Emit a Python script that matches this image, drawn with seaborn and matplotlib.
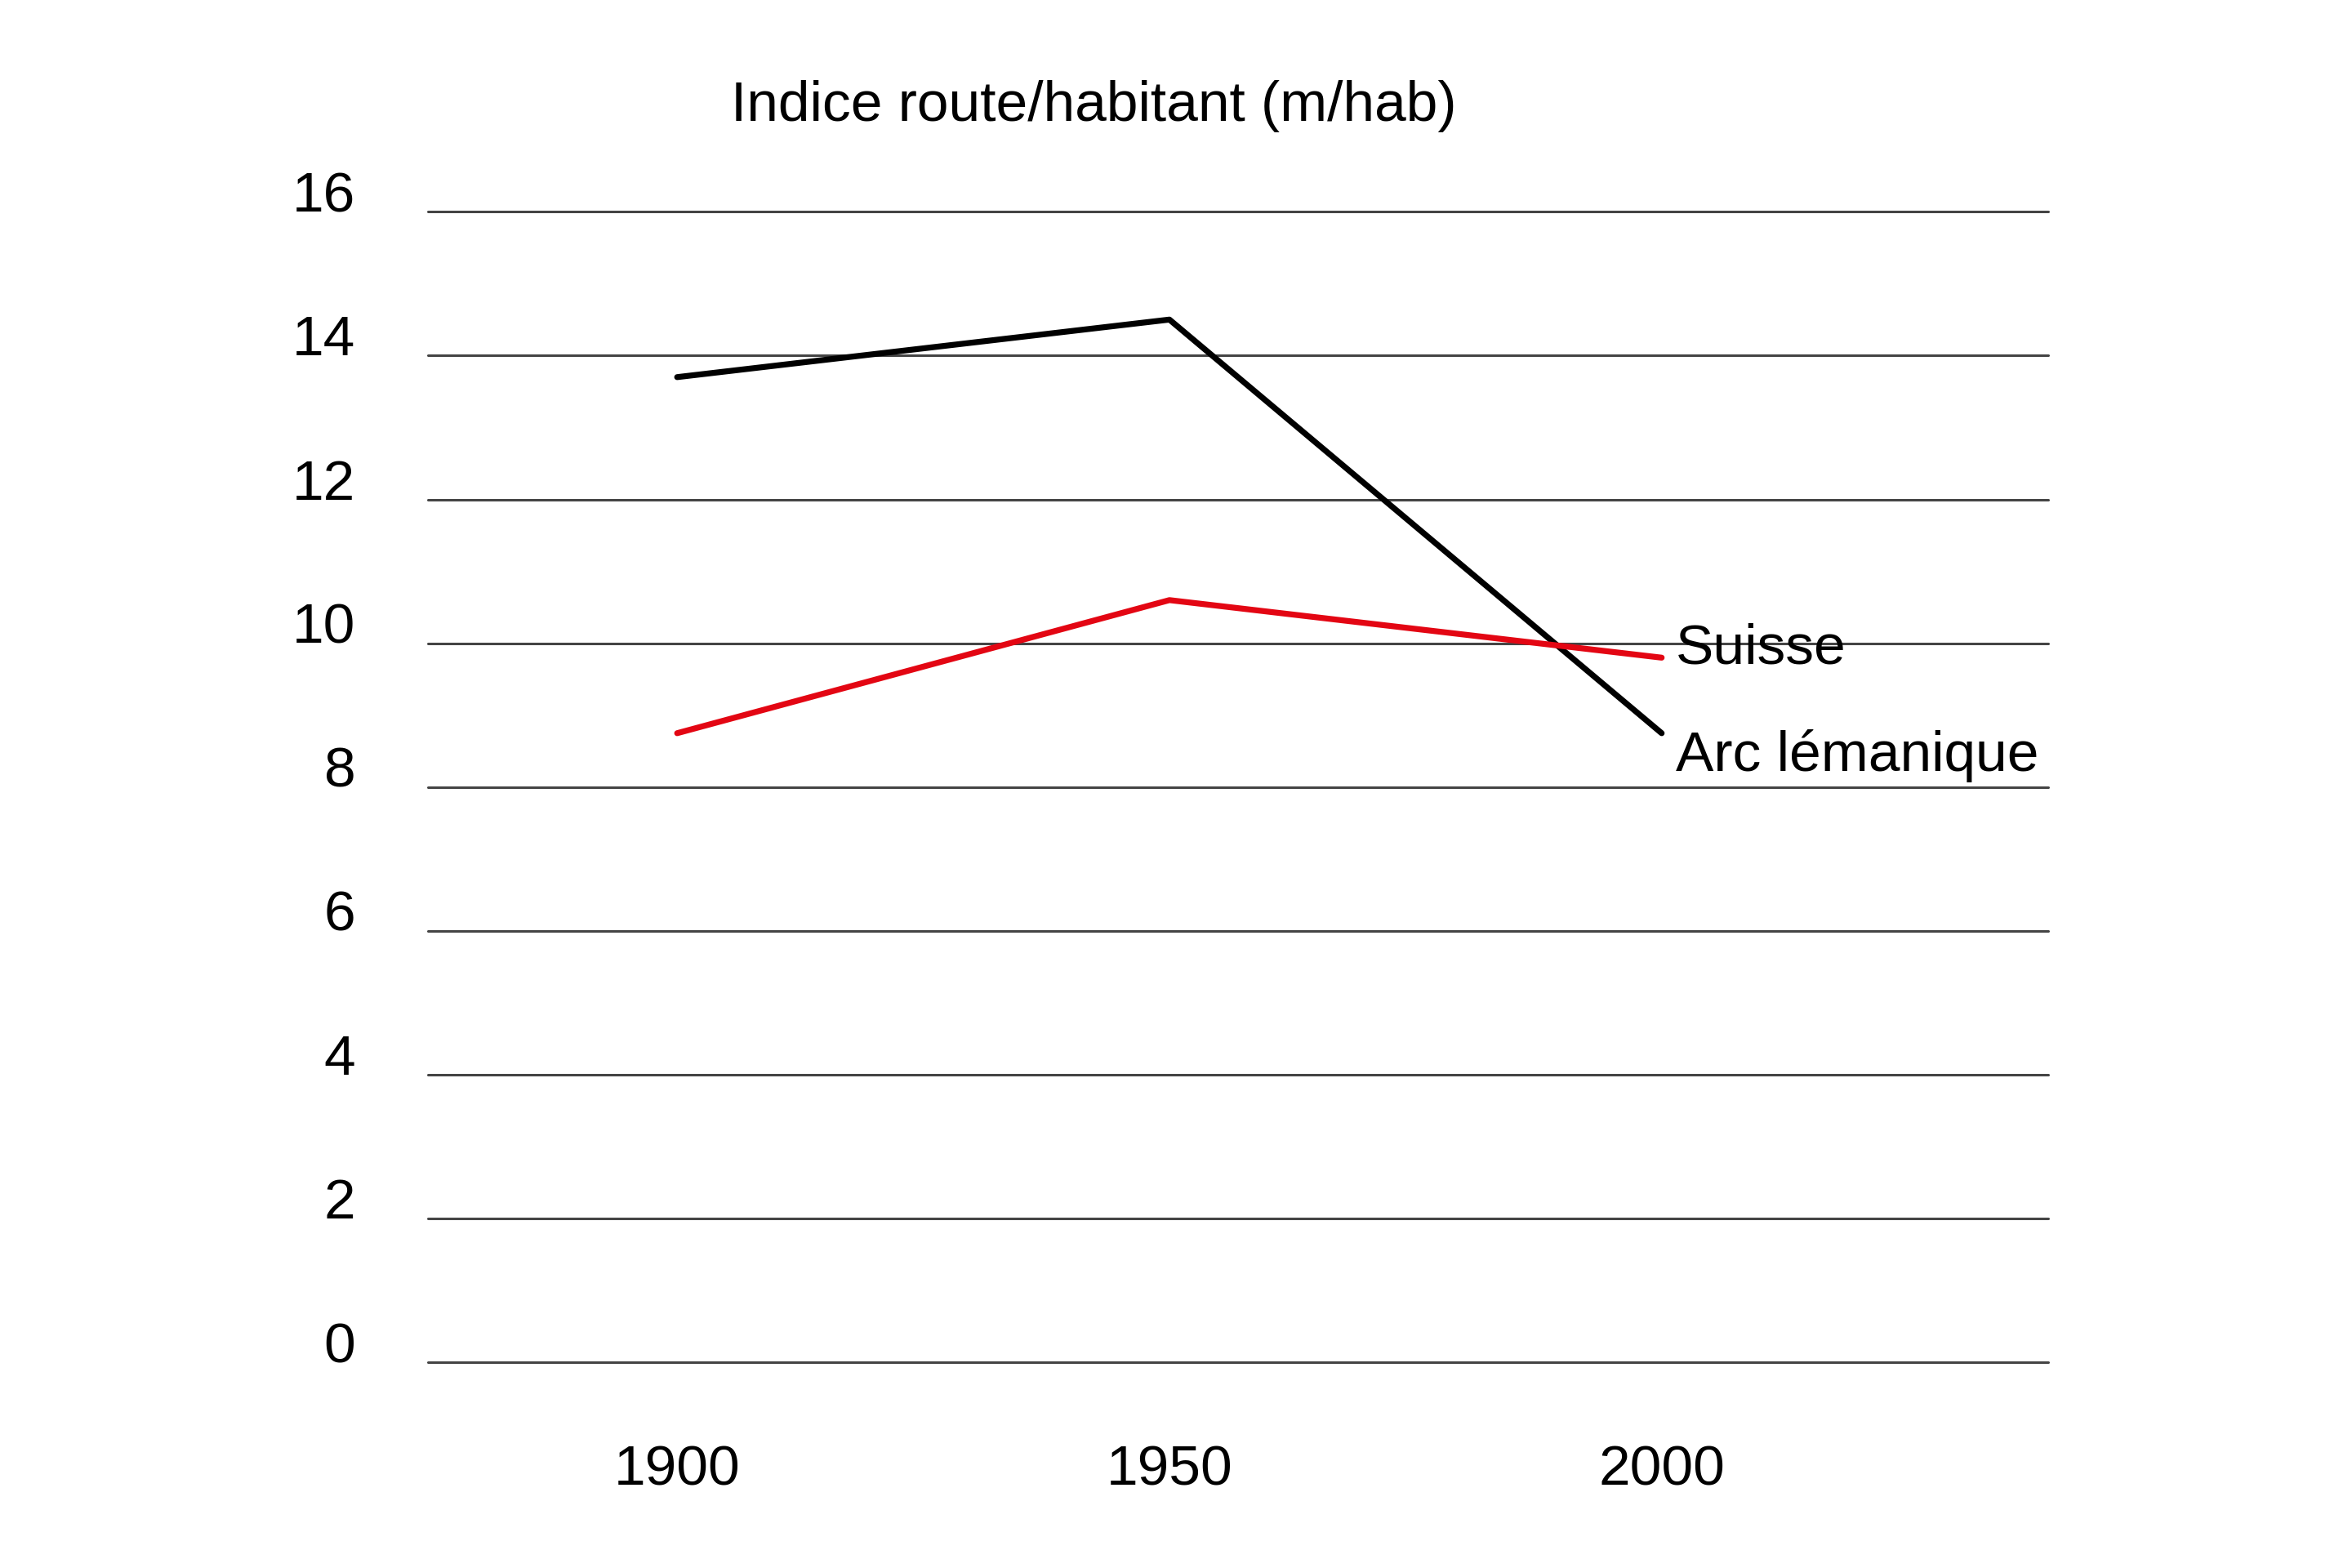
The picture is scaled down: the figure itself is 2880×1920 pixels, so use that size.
import matplotlib.pyplot as plt
import seaborn as sns
import pandas as pd

years = [1900, 1950, 2000]
arc_lemanique = [13.7, 14.5, 8.75]
suisse = [8.75, 10.6, 9.8]
yticks = [0, 2, 4, 6, 8, 10, 12, 14, 16]

df = pd.DataFrame({
    "annee": years * 2,
    "valeur": arc_lemanique + suisse,
    "serie": ["Arc lémanique"] * 3 + ["Suisse"] * 3,
})

sns.set_style("white")
plt.rcParams["font.family"] = ["Liberation Sans Narrow", "Liberation Sans", "DejaVu Sans"]
plt.rcParams["text.color"] = "black"
plt.rcParams["xtick.color"] = "black"
plt.rcParams["ytick.color"] = "black"

fig = plt.figure(figsize=(14.4, 9.6), dpi=200)
ax = fig.add_axes([0.182, 0.131, 0.689, 0.734])

for y in yticks:
    ax.axhline(y, color="#444444", lw=1.1, zorder=1, clip_on=False)

sns.lineplot(data=df, x="annee", y="valeur", hue="serie",
             palette={"Arc lémanique": "black", "Suisse": "#e30613"},
             lw=2.6, legend=False, ax=ax, zorder=3)

ax.set_xlim(1874.7, 2039.3)
ax.set_ylim(0, 16)
ax.set_xticks(years)
ax.set_yticks(yticks)
ax.set_xlabel("")
ax.set_ylabel("")
sns.despine(ax=ax, left=True, bottom=True)
ax.tick_params(axis="both", length=0, labelsize=25, labelcolor="black")
ax.tick_params(axis="y", pad=32)
ax.tick_params(axis="x", pad=36)
for lab in ax.get_yticklabels():
    lab.set_verticalalignment("baseline")

ax.text(2001.4, 9.92, "Suisse", fontsize=25, va="center", ha="left", clip_on=False)
ax.text(2001.4, 8.43, "Arc lémanique", fontsize=25, va="center", ha="left", clip_on=False)
ax.text(1905.5, 17.47, "Indice route/habitant (m/hab)", fontsize=25, va="center", ha="left", clip_on=False)

fig.savefig("out.png", dpi=200)
